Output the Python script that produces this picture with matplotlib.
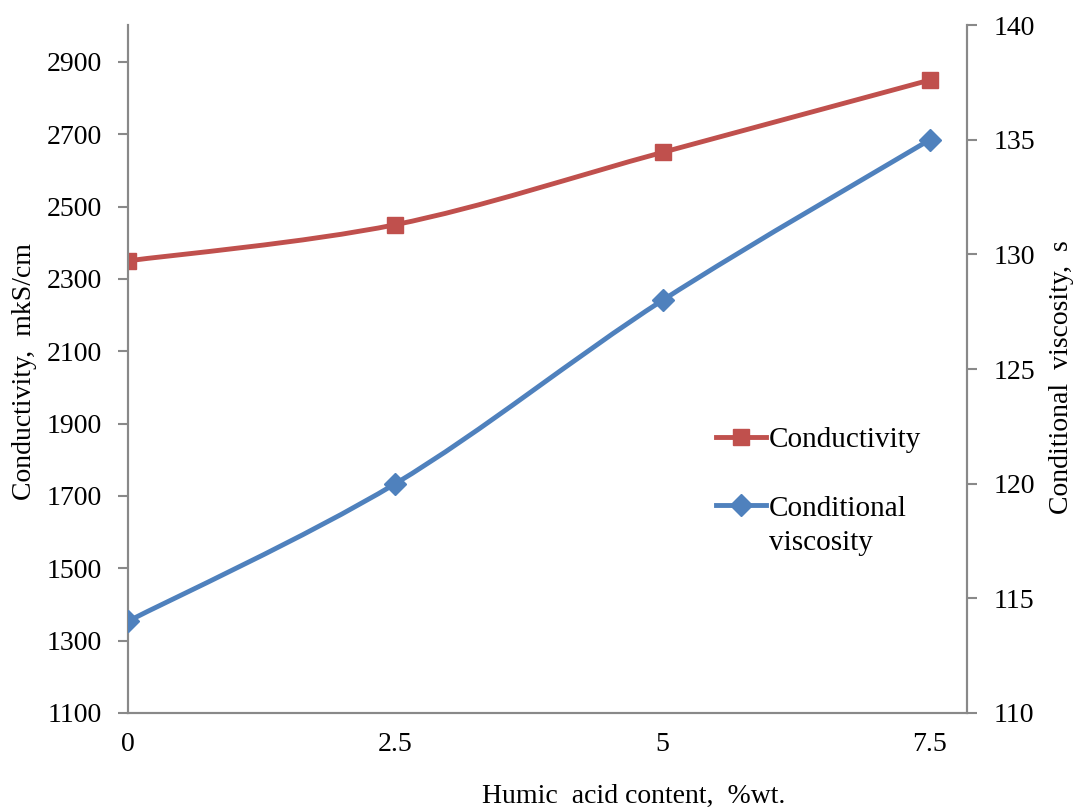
import matplotlib
matplotlib.use('Agg')
import matplotlib.pyplot as plt
from matplotlib.path import Path
from matplotlib.patches import PathPatch

plt.rcParams['font.family'] = ['Liberation Serif', 'DejaVu Serif']

# data
humic = [0, 2.5, 5, 7.5]
conductivity = [2350, 2450, 2650, 2850]
viscosity = [114, 120, 128, 135]
xticks = [0, 2.5, 5, 7.5]
xtick_labels = ['0', '2.5', '5', '7.5']
left_ticks = [1100, 1300, 1500, 1700, 1900, 2100, 2300, 2500, 2700, 2900]
right_ticks = [110, 115, 120, 125, 130, 135, 140]

red = '#C0504D'
blue = '#4F81BD'
grey = '#898989'


def smooth_path(xs, ys):
    # Excel-like smoothing: cubic Bezier segments through the points
    verts = [(xs[0], ys[0])]
    codes = [Path.MOVETO]
    n = len(xs)
    for i in range(n - 1):
        x0, y0 = (xs[i - 1], ys[i - 1]) if i > 0 else (xs[i], ys[i])
        x1, y1 = xs[i], ys[i]
        x2, y2 = xs[i + 1], ys[i + 1]
        x3, y3 = (xs[i + 2], ys[i + 2]) if i + 2 < n else (x2, y2)
        c1 = (x1 + (x2 - x0) / 6, y1 + (y2 - y0) / 6)
        c2 = (x2 - (x3 - x1) / 6, y2 - (y3 - y1) / 6)
        verts += [c1, c2, (x2, y2)]
        codes += [Path.CURVE4] * 3
    return Path(verts, codes)


fig = plt.figure(figsize=(10.73, 8.07), dpi=100)
ax = fig.add_axes([0.1193, 0.1165, 0.7819, 0.8525])
ax2 = ax.twinx()

ax.add_patch(PathPatch(smooth_path(humic, conductivity), fill=False,
                       edgecolor=red, lw=3.5, capstyle='round', zorder=3))
ax.plot(humic, conductivity, ls='none', marker='s', ms=12, color=red,
        zorder=4)
ax2.add_patch(PathPatch(smooth_path(humic, viscosity), fill=False,
                        edgecolor=blue, lw=3.5, capstyle='round', zorder=3))
ax2.plot(humic, viscosity, ls='none', marker='D', ms=11, color=blue,
         zorder=4)

ax.set_xlim(0, 7.846)
ax.set_ylim(1100, 3002)
ax2.set_ylim(110, 140)
ax.set_xticks(xticks)
ax.set_xticklabels(xtick_labels)
ax.set_yticks(left_ticks)
ax2.set_yticks(right_ticks)

for a in (ax, ax2):
    a.spines['top'].set_visible(False)
    for s in ('left', 'right', 'bottom'):
        a.spines[s].set_color(grey)
        a.spines[s].set_linewidth(1.5)

ax.tick_params(axis='y', direction='out', length=7, width=1.5, color=grey,
               labelsize=20, pad=12)
ax.tick_params(axis='x', length=0, labelsize=20, pad=14)
ax2.tick_params(axis='y', direction='out', length=7, width=1.5, color=grey,
                labelsize=20, pad=12)

fig.text(25 / 1073, 1 - 371 / 807, 'Conductivity,  mkS/cm', fontsize=20,
         rotation=90, ha='center', va='center')
fig.text(1062 / 1073, 1 - 377 / 807, 'Conditional  viscosity,  s',
         fontsize=20, rotation=90, ha='center', va='center')
fig.text(634 / 1073, 4 / 807, 'Humic  acid content,  %wt.', fontsize=20,
         ha='center', va='baseline')

h1 = plt.Line2D([], [], color=red, lw=3.5, marker='s', ms=12)
h2 = plt.Line2D([], [], color=blue, lw=3.5, marker='D', ms=11)
leg = ax2.legend([h1, h2], ['Conductivity', 'Conditional'],
                 loc='upper left', bbox_to_anchor=(0.687, 0.433),
                 frameon=False, fontsize=21, handlelength=1.7,
                 handletextpad=0.1, labelspacing=1.44, borderaxespad=0)
# second line of the wrapped legend label, under "Conditional"
fig.canvas.draw()
ax2.annotate('viscosity', xy=(0, 1), xycoords=leg.get_texts()[1],
             xytext=(0, -24.5), textcoords='offset points',
             ha='left', va='top', fontsize=21, zorder=10)

fig.savefig('out.png', dpi=100)
